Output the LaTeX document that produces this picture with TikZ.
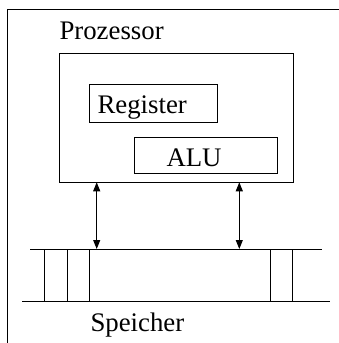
\documentclass[tikz,border=0pt]{standalone}
\usepackage{fontspec}
\setmainfont{Liberation Serif}
\usetikzlibrary{arrows.meta}
\begin{document}
\begin{tikzpicture}[x=1pt,y=-1pt,line width=1pt,
  box/.style={draw,line width=1pt},
  lbl/.style={anchor=base west,inner sep=0pt,font=\fontsize{26.8}{30}\selectfont},
  bus/.style={{Triangle[length=9pt,width=7pt]}-{Triangle[length=9pt,width=7pt]}}]
\useasboundingbox (0,0) rectangle (339,343);
% outer frame (only top and left visible)
\coordinate (ftr) at (345,9);
\coordinate (ftl) at (7,9);
\coordinate (fbl) at (7,350);
\draw (ftr) -- (ftl) -- (fbl);
% processor
\node[lbl] (proz) at (59,39) {Prozessor};
\node[box,minimum width=233.3pt,minimum height=128.4pt,inner sep=0pt,anchor=north west] (cpu) at (59.3,53.3) {};
\node[box,minimum width=128pt,minimum height=37.7pt,inner sep=0pt,anchor=north west] (reg) at (89.3,84) {};
\node[lbl] (regt) at (97,113.3) {Register};
\node[box,minimum width=143pt,minimum height=36.6pt,inner sep=0pt,anchor=north west] (alu) at (134.3,136.7) {};
\node[lbl] (alut) at (166,166) {ALU};
% memory
\coordinate (m1a) at (30,249);
\coordinate (m1b) at (321.7,249);
\coordinate (m2a) at (22.3,301.7);
\coordinate (m2b) at (330,301.7);
\draw (m1a) -- (m1b);
\draw (m2a) -- (m2b);
\foreach \xx in {44.7,67,89.7,270,292.3} {
  \draw (\xx,249) -- (\xx,301.7);
}
\node[lbl] (mem) at (90,331) {Speicher};
% arrows
\coordinate (a1t) at (96.7,182.3);
\coordinate (a1b) at (96.7,249);
\coordinate (a2t) at (239.3,182.3);
\coordinate (a2b) at (239.3,249);
\draw[bus] (a1t) -- (a1b);
\draw[bus] (a2t) -- (a2b);
\end{tikzpicture}
\end{document}
